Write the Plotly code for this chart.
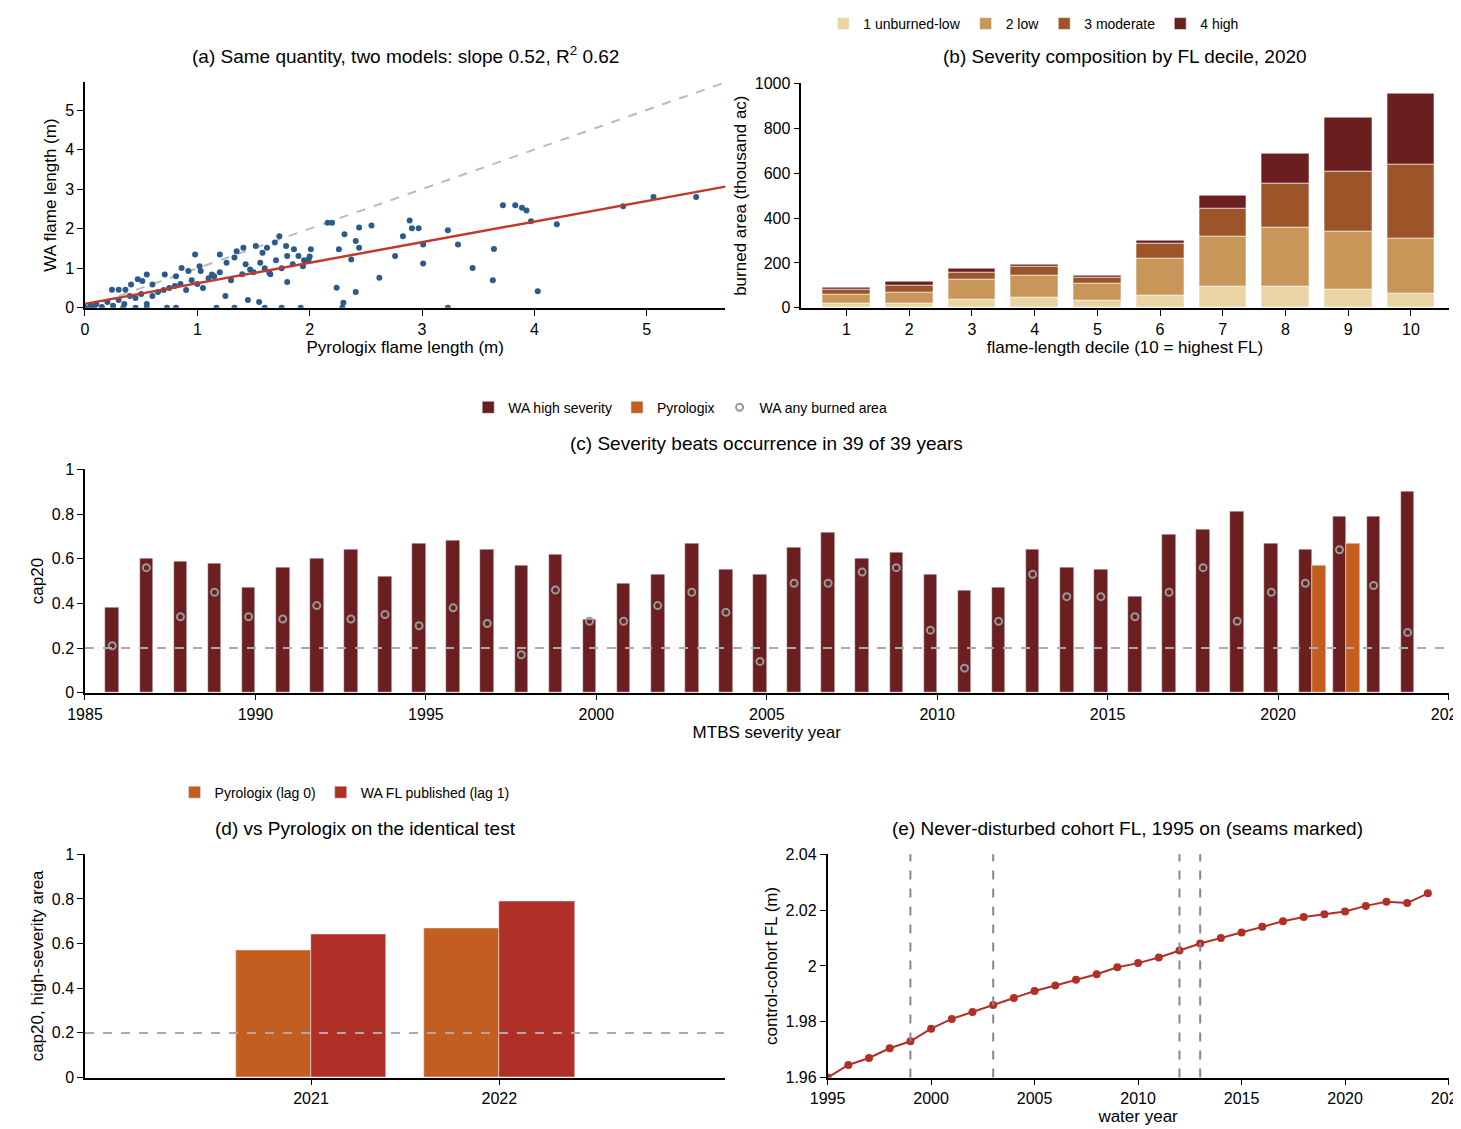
import plotly.graph_objects as go
from plotly.subplots import make_subplots

# (a) scatter, Pyrologix vs WA flame length (m)
pyro_fl = [0.24, 0.30, 0.36, 0.41, 0.47, 0.55, 0.51, 0.60, 0.71, 0.81, 0.86, 0.92, 0.98, 1.02, 1.03,
           1.13, 1.20, 1.26, 1.33, 1.35, 1.41, 1.43, 1.47, 1.52, 1.56, 1.58, 1.62, 1.64, 1.69, 1.73,
           1.79, 1.80, 1.86, 1.90, 1.94, 2.01, 1.99, 2.16, 2.20, 2.26, 2.31, 2.37, 2.41, 2.44, 2.44,
           2.55, 2.24, 2.41, 2.62, 2.30, 2.76, 2.83, 2.89, 2.91, 2.97, 3.01, 3.01, 3.23, 3.32, 3.45,
           3.63, 3.64, 3.72, 3.83, 3.89, 3.93, 3.97, 4.03, 4.20, 4.79, 5.06, 5.44,
           0.00, 0.08, 0.34, 0.45, 0.55, 0.73, 0.81, 1.17, 1.33, 1.60, 1.75, 1.92, 2.29, 3.23,
           0.05, 0.10, 0.20, 0.30, 0.35, 0.40, 0.45, 0.50, 0.55, 0.60, 0.65, 0.70, 0.75, 0.80, 0.85,
           0.90, 0.95, 1.00, 1.05, 1.10, 1.15, 1.25, 1.30, 1.40, 1.45, 1.50, 1.55, 1.60, 1.65, 1.70,
           1.75, 1.80, 1.85, 1.95, 2.00, 1.20, 0.25, 0.15]
wa_fl = [0.46, 0.46, 0.46, 0.59, 0.72, 0.84, 0.68, 0.59, 0.84, 0.80, 1.01, 0.93, 1.35, 1.05, 0.93,
         0.84, 1.35, 1.14, 1.27, 1.43, 1.52, 1.10, 0.97, 1.56, 1.14, 1.39, 1.52, 0.89, 1.65, 1.81,
         1.56, 1.31, 1.48, 1.31, 1.05, 1.48, 1.22, 2.15, 2.15, 1.48, 1.86, 1.22, 1.69, 2.03, 1.52,
         2.08, 0.51, 0.40, 0.76, 0.13, 1.31, 1.81, 2.21, 2.01, 2.01, 1.12, 1.60, 1.96, 1.60, 1.01,
         0.70, 1.49, 2.59, 2.59, 2.53, 2.46, 2.19, 0.42, 2.11, 2.57, 2.80, 2.80,
         0.00, 0.00, 0.00, 0.00, 0.00, 0.00, 0.00, 0.00, 0.00, 0.00, 0.00, 0.00, 0.00, 0.00,
         0.05, 0.10, 0.15, 0.20, 0.10, 0.30, 0.25, 0.35, 0.10, 0.30, 0.40, 0.45, 0.50, 0.55, 0.60,
         0.45, 0.70, 0.60, 0.50, 0.75, 0.80, 0.30, 0.70, 0.85, 0.20, 0.90, 0.15, 1.00, 0.85, 1.20,
         1.00, 0.65, 1.10, 1.20, 1.30, 0.90, 0.05, 0.02]
fit_slope, fit_intercept = 0.52, 0.10
a_max = 5.7

# (b) severity composition by decile, thousand acres
deciles = list(range(1, 11))
sev_names = ["1 unburned-low", "2 low", "3 moderate", "4 high"]
sev_colors = ["#e8d5a3", "#c9965a", "#9c5528", "#6b1e1e"]
sev_unburned_low = [20, 20, 38, 45, 32, 55, 95, 95, 80, 62]
sev_low = [40, 50, 90, 100, 75, 165, 225, 265, 260, 248]
sev_moderate = [20, 30, 30, 40, 30, 65, 125, 195, 270, 330]
sev_high = [10, 18, 17, 10, 8, 15, 55, 135, 240, 315]

# (c) cap20 by MTBS year
years = list(range(1986, 2025))
wa_high = [0.38, 0.60, 0.59, 0.58, 0.47, 0.56, 0.60, 0.64, 0.52, 0.67, 0.68, 0.64, 0.57, 0.62,
           0.33, 0.49, 0.53, 0.67, 0.55, 0.53, 0.65, 0.72, 0.60, 0.63, 0.53, 0.46, 0.47, 0.64,
           0.56, 0.55, 0.43, 0.71, 0.73, 0.81, 0.67, 0.64, 0.79, 0.79, 0.90]
wa_any = [0.21, 0.56, 0.34, 0.45, 0.34, 0.33, 0.39, 0.33, 0.35, 0.30, 0.38, 0.31, 0.17, 0.46,
          0.32, 0.32, 0.39, 0.45, 0.36, 0.14, 0.49, 0.49, 0.54, 0.56, 0.28, 0.11, 0.32, 0.53,
          0.43, 0.43, 0.34, 0.45, 0.56, 0.32, 0.45, 0.49, 0.64, 0.48, 0.27]
pyro_years = [2021, 2022]
pyro_cap20 = [0.57, 0.67]
wa_pub_cap20 = [0.64, 0.79]
cap_ref = 0.2

# (e) never-disturbed cohort FL
water_years = list(range(1995, 2025))
cohort_fl = [1.960, 1.9645, 1.967, 1.9705, 1.973, 1.9775, 1.981, 1.9835, 1.986, 1.9885, 1.991,
             1.993, 1.995, 1.997, 1.9995, 2.001, 2.003, 2.0055, 2.008, 2.010, 2.012, 2.014,
             2.016, 2.0175, 2.0185, 2.0195, 2.0215, 2.023, 2.0225, 2.026]
seams = [1999, 2003, 2012, 2013]

WA_RED = "#6b1f20"
PYRO = "#c45e20"
PUB_RED = "#b03028"
GREY = "#aaaaaa"

fig = make_subplots(rows=3, cols=2, specs=[[{}, {}], [{"colspan": 2}, None], [{}, {}]])

# (a)
fig.add_trace(go.Scatter(x=[0, a_max], y=[0, a_max], mode="lines", showlegend=False,
                         line=dict(color="#bbbbbb", dash="dash", width=2)), row=1, col=1)
fig.add_trace(go.Scatter(x=pyro_fl, y=wa_fl, mode="markers", showlegend=False,
                         marker=dict(color="#2a5b8c", size=6)), row=1, col=1)
fig.add_trace(go.Scatter(x=[0, a_max], y=[fit_intercept, fit_intercept + fit_slope * a_max],
                         mode="lines", showlegend=False, line=dict(color="#c0392b", width=2.5)),
              row=1, col=1)

# (b) stacked by hand (layout uses overlay for the other panels)
base = [0] * len(deciles)
for name, col, vals in zip(sev_names, sev_colors,
                           [sev_unburned_low, sev_low, sev_moderate, sev_high]):
    fig.add_trace(go.Bar(x=deciles, y=vals, base=list(base), name=name, marker_color=col,
                         width=0.76, marker_line=dict(color="white", width=0.6),
                         legend="legend"), row=1, col=2)
    base = [b + v for b, v in zip(base, vals)]

# (c)
fig.add_trace(go.Bar(x=years, y=wa_high, name="WA high severity", marker_color=WA_RED,
                     width=0.4, offset=-0.4, legend="legend2"), row=2, col=1)
fig.add_trace(go.Bar(x=pyro_years, y=pyro_cap20, name="Pyrologix", marker_color=PYRO,
                     width=0.4, offset=0, legend="legend2"), row=2, col=1)
fig.add_trace(go.Scatter(x=[y - 0.2 for y in years], y=wa_any, mode="markers",
                         name="WA any burned area", legend="legend2",
                         marker=dict(symbol="circle-open", color="#999999", size=7,
                                     line=dict(width=2))), row=2, col=1)

# (d)
fig.add_trace(go.Bar(x=pyro_years, y=pyro_cap20, name="Pyrologix (lag 0)", marker_color=PYRO,
                     width=0.4, offset=-0.4, legend="legend3"), row=3, col=1)
fig.add_trace(go.Bar(x=pyro_years, y=wa_pub_cap20, name="WA FL published (lag 1)",
                     marker_color=PUB_RED, width=0.4, offset=0, legend="legend3"), row=3, col=1)

# (e)
fig.add_trace(go.Scatter(x=water_years, y=cohort_fl, mode="lines+markers", showlegend=False,
                         line=dict(color=PUB_RED, width=2),
                         marker=dict(color=PUB_RED, size=8)), row=3, col=2)

axis_style = dict(showline=True, linecolor="black", linewidth=1.5, ticks="outside",
                  tickcolor="black", ticklen=6, showgrid=False, zeroline=False, automargin=False,
                  tickfont=dict(size=16, color="black"), title_font=dict(size=17, color="black"))
fig.update_xaxes(**axis_style)
fig.update_yaxes(**axis_style)

fig.update_layout(
    xaxis=dict(domain=[0.0527, 0.491], range=[0, a_max], dtick=1,
               title=dict(text="Pyrologix flame length (m)", standoff=4)),
    yaxis=dict(domain=[0.739, 0.940], range=[0, a_max], dtick=1,
               title=dict(text="WA flame length (m)", standoff=4)),
    xaxis2=dict(domain=[0.543, 0.986], range=[0.28, 10.6], dtick=1,
                title=dict(text="flame-length decile (10 = highest FL)", standoff=4)),
    yaxis2=dict(domain=[0.739, 0.939], range=[0, 1000], dtick=200,
                title=dict(text="burned area (thousand ac)", standoff=4)),
    xaxis3=dict(domain=[0.0527, 0.986], range=[1985, 2025], dtick=5,
                title=dict(text="MTBS severity year", standoff=4)),
    yaxis3=dict(domain=[0.396, 0.595], range=[0, 1], dtick=0.2,
                title=dict(text="cap20", standoff=4)),
    xaxis4=dict(domain=[0.0527, 0.491], range=[2019.8, 2023.2], tickvals=pyro_years),
    yaxis4=dict(domain=[0.053, 0.252], range=[0, 1], dtick=0.2,
                title=dict(text="cap20, high-severity area", standoff=4)),
    xaxis5=dict(domain=[0.561, 0.986], range=[1995, 2025], dtick=5,
                title=dict(text="water year", standoff=2)),
    yaxis5=dict(domain=[0.053, 0.252], range=[1.96, 2.04], dtick=0.02,
                title=dict(text="control-cohort FL (m)", standoff=4)),
)

fig.add_hline(y=cap_ref, line=dict(color=GREY, dash="dash", width=2), row=2, col=1)
fig.add_hline(y=cap_ref, line=dict(color=GREY, dash="dash", width=2), row=3, col=1)
for s in seams:
    fig.add_vline(x=s, line=dict(color="#888888", dash="dash", width=2), row=3, col=2)

titles = [
    (0.272, 0.952, "(a) Same quantity, two models: slope 0.52, R<sup>2</sup> 0.62"),
    (0.7645, 0.952, "(b) Severity composition by FL decile, 2020"),
    (0.519, 0.607, "(c) Severity beats occurrence in 39 of 39 years"),
    (0.245, 0.264, "(d) vs Pyrologix on the identical test"),
    (0.766, 0.264, "(e) Never-disturbed cohort FL, 1995 on (seams marked)"),
]
for x, y, t in titles:
    fig.add_annotation(x=x, y=y, xref="paper", yref="paper", text=t, showarrow=False,
                       xanchor="center", yanchor="bottom", font=dict(size=19, color="black"))

leg = dict(orientation="h", xanchor="left", yanchor="middle", bgcolor="rgba(0,0,0,0)",
           traceorder="normal", font=dict(size=14, color="black"))
fig.update_layout(
    legend=dict(x=0.558, y=0.992, **leg),
    legend2=dict(x=0.315, y=0.650, **leg),
    legend3=dict(x=0.114, y=0.307, **leg),
    width=1461, height=1129, margin=dict(l=0, r=0, t=0, b=0),
    plot_bgcolor="white", paper_bgcolor="white",
    font=dict(family="Liberation Sans, Arial, sans-serif", color="black", size=14),
    barmode="overlay", bargap=0,
)

fig.write_html("out.html")
